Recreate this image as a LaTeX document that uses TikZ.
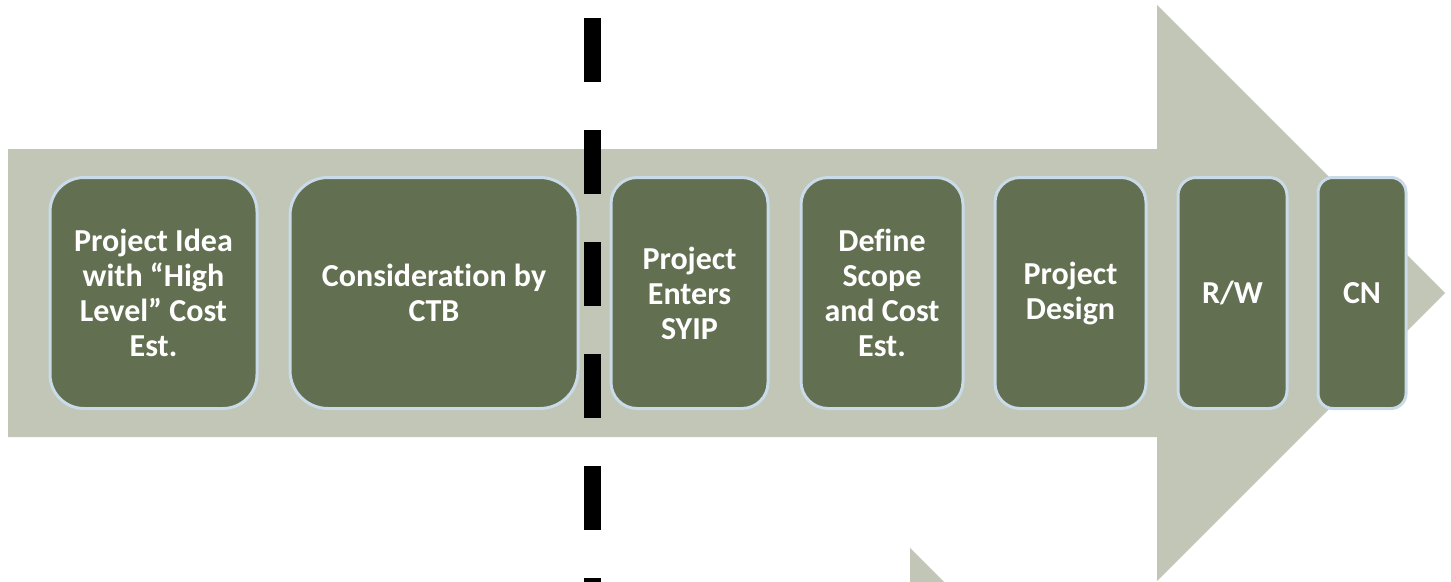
\documentclass[tikz,border=0pt]{standalone}
\usepackage{fontspec}
\setmainfont{Carlito}[Ligatures=NoCommon]
\usetikzlibrary{positioning}

\definecolor{arrowgray}{HTML}{C1C6B7}
\definecolor{stagegreen}{HTML}{636F51}
\definecolor{stageedge}{HTML}{C9DAE8}

\begin{document}
\begin{tikzpicture}[
  x=1pt, y=-1pt,
  stage/.style={draw=stageedge, line width=3pt, fill=stagegreen,
    text=white, align=center, inner sep=0pt, minimum height=231pt,
    font=\fontsize{32}{35}\selectfont\bfseries},
]
\useasboundingbox (0,0) rectangle (1451,581);
\clip (0,0) rectangle (1451,581);

% big arrow
\fill[arrowgray] (8,149) -- (1157,149) -- (1157,5) -- (1445,293)
  -- (1157,581) -- (1157,437) -- (8,437) -- cycle;
\fill[arrowgray] (910,548) -- (910,620) -- (982,620) -- cycle;

% divider
\foreach \k in {0,...,5} {
  \fill[black] (584,18+112*\k) rectangle (601,82+112*\k);
}

\node[stage, minimum width=207pt, rounded corners=34pt] (idea) at (153.5,293)
  {Project Idea\\with “High\\Level” Cost\\Est.};
\node[stage, minimum width=288pt, rounded corners=38pt] (ctb) at (434,293)
  {Consideration by\\CTB};
\node[stage, minimum width=157pt, rounded corners=26pt] (syip) at (689.5,293)
  {Project\\Enters\\SYIP};
\node[stage, minimum width=162pt, rounded corners=27pt] (scope) at (882,293)
  {Define\\Scope\\and Cost\\Est.};
\node[stage, minimum width=151pt, rounded corners=25pt] (design) at (1070.5,293)
  {Project\\Design};
\node[stage, minimum width=109pt, rounded corners=18pt] (rw) at (1232.5,293)
  {R/W};
\node[stage, minimum width=88pt, rounded corners=15pt] (cn) at (1362,293)
  {CN};

\end{tikzpicture}
\end{document}
